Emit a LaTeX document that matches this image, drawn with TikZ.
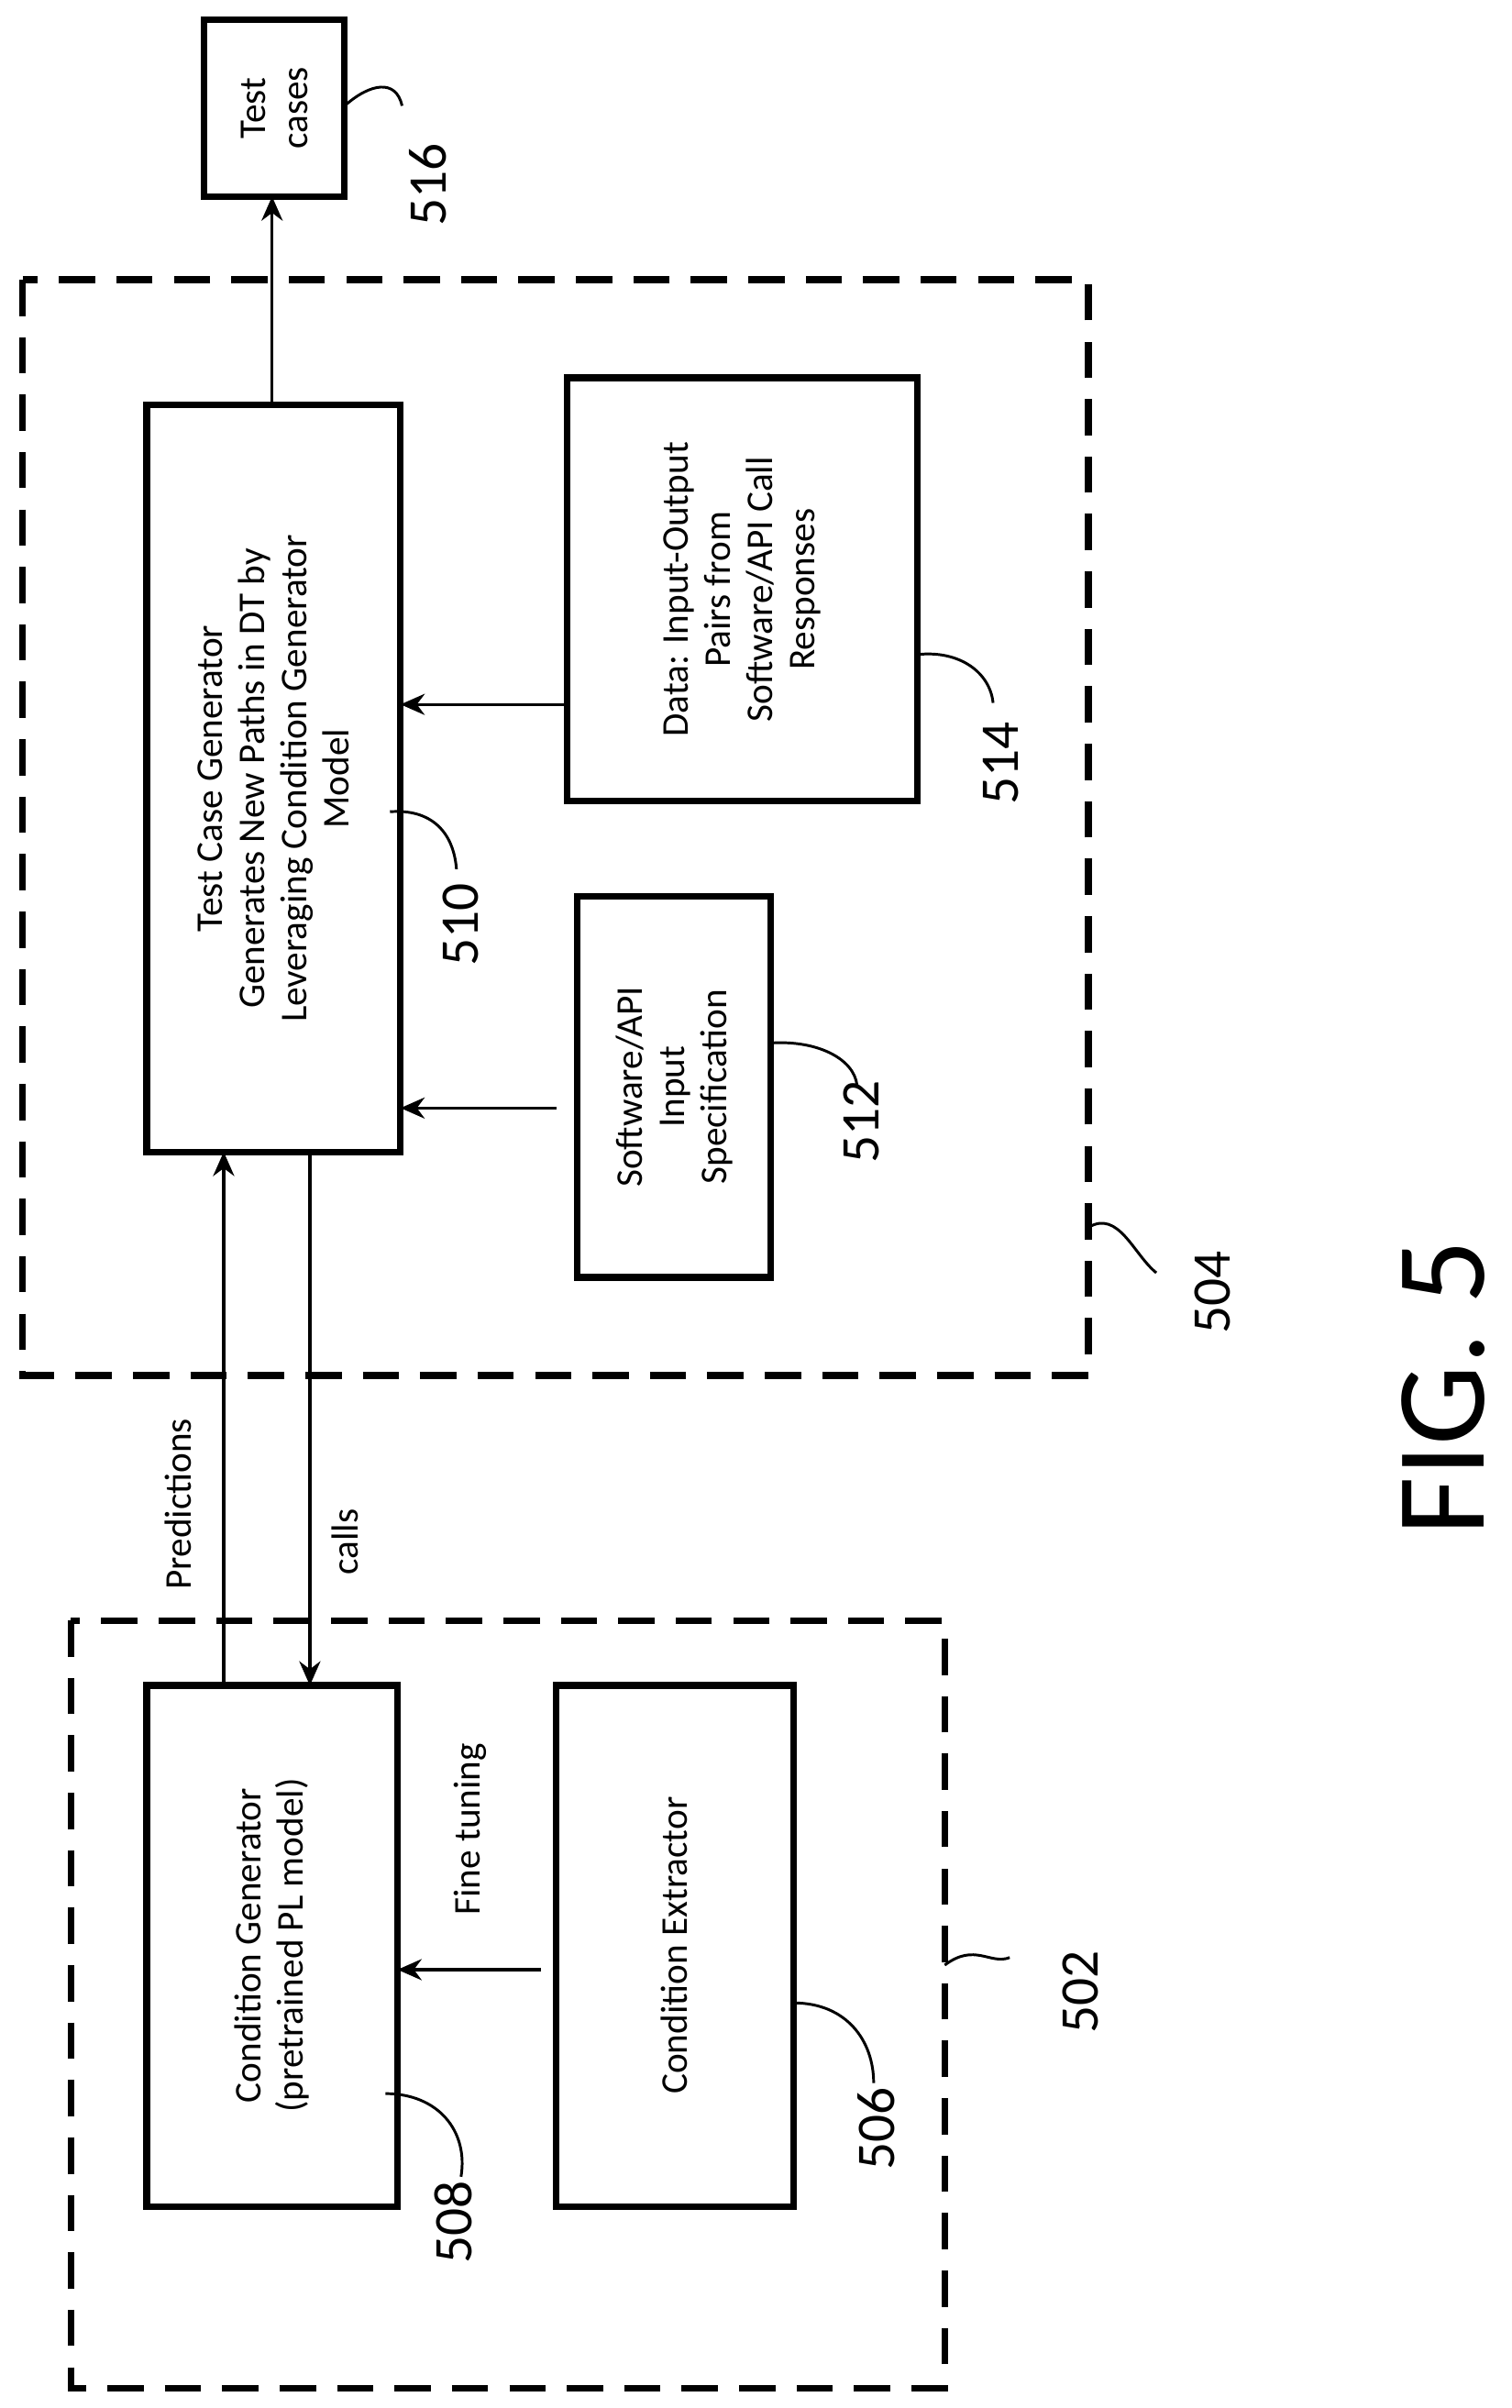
\documentclass[tikz,border=0pt]{standalone}
\usepackage{fontspec}
\setmainfont{Carlito}
\usetikzlibrary{arrows.meta}
\begin{document}
\begin{tikzpicture}[x=0.5pt,y=-0.5pt,
  box/.style={draw,line width=2.2pt},
  dbox/.style={draw,line width=2.2pt,dash pattern=on 12pt off 7pt},
  txt/.style={rotate=90,align=center,font=\fontsize{12.5}{14}\selectfont},
  num/.style={rotate=90,font=\fontsize{18}{20}\selectfont},
  arr/.style={-{Stealth[length=8pt,width=7pt]},line width=1pt},
  lead/.style={line width=0.9pt}]
\useasboundingbox (0,0) rectangle (1000,1593);
\draw[dbox] (15,185) rectangle (720,910);
\draw[dbox] (47,1072) rectangle (625,1580);
\draw[box] (135,13) rectangle (228,130);
\node[txt] (tc) at (181.5,71.5) {Test\\cases};
\draw[box] (97,268) rectangle (265,762);
\node[txt] (tcg) at (181,515) {Test Case Generator\\Generates New Paths in DT by\\Leveraging Condition Generator\\Model};
\draw[box] (375,250) rectangle (607,530);
\node[txt] (data) at (491,390) {Data: Input-Output\\Pairs from\\Software/API Call\\Responses};
\draw[box] (382,593) rectangle (510,845);
\node[txt] (spec) at (446,719) {Software/API\\Input\\Specification};
\draw[box] (97,1115) rectangle (263,1460);
\node[txt] (cg) at (180,1287) {Condition Generator\\(pretrained PL model)};
\draw[box] (368,1115) rectangle (525,1460);
\node[txt] (ce) at (446,1287) {Condition Extractor};
\coordinate (tcgtop) at (180,268);
\coordinate (tcbot) at (180,130);
\coordinate (d1) at (375,466); \coordinate (t1) at (265,466);
\coordinate (s1) at (368,733); \coordinate (t2) at (265,733);
\coordinate (p1) at (148,1115); \coordinate (p2) at (148,762);
\coordinate (c1) at (205,762); \coordinate (c2) at (205,1115);
\coordinate (f1) at (358,1303); \coordinate (f2) at (263,1303);
\draw[arr] (tcgtop) -- (tcbot);
\draw[arr] (d1) -- (t1);
\draw[arr] (s1) -- (t2);
\draw[arr] (p1) -- (p2);
\draw[arr] (c1) -- (c2);
\draw[arr] (f1) -- (f2);
\node[txt] (lp) at (118,995) {Predictions};
\node[txt] (lc) at (228,1020) {calls};
\node[txt] (lf) at (311,1210) {Fine tuning};
\node[num] (n516) at (283,122) {516};
\draw[lead] (228,70) .. controls (245,55) and (262,52) .. (266,70);
\node[num] (n510) at (305,612) {510};
\draw[lead] (258,537) .. controls (285,535) and (300,550) .. (302,575);
\node[num] (n514) at (662,505) {514};
\draw[lead] (607,433) .. controls (635,430) and (655,445) .. (657,465);
\node[num] (n512) at (570,742) {512};
\draw[lead] (510,690) .. controls (540,688) and (565,700) .. (567,718);
\node[num] (n504) at (802,855) {504};
\draw[lead] (720,812) .. controls (740,800) and (750,830) .. (765,842);
\node[num] (n508) at (300,1470) {508};
\draw[lead] (255,1385) .. controls (290,1385) and (310,1410) .. (305,1440);
\node[num] (n506) at (580,1408) {506};
\draw[lead] (525,1325) .. controls (560,1325) and (578,1350) .. (578,1378);
\node[num] (n502) at (715,1318) {502};
\draw[lead] (625,1300) .. controls (645,1285) and (655,1300) .. (668,1295);
\node[rotate=90,font=\fontsize{42}{44}\selectfont] (fig) at (955,918) {FIG. 5};
\end{tikzpicture}
\end{document}
